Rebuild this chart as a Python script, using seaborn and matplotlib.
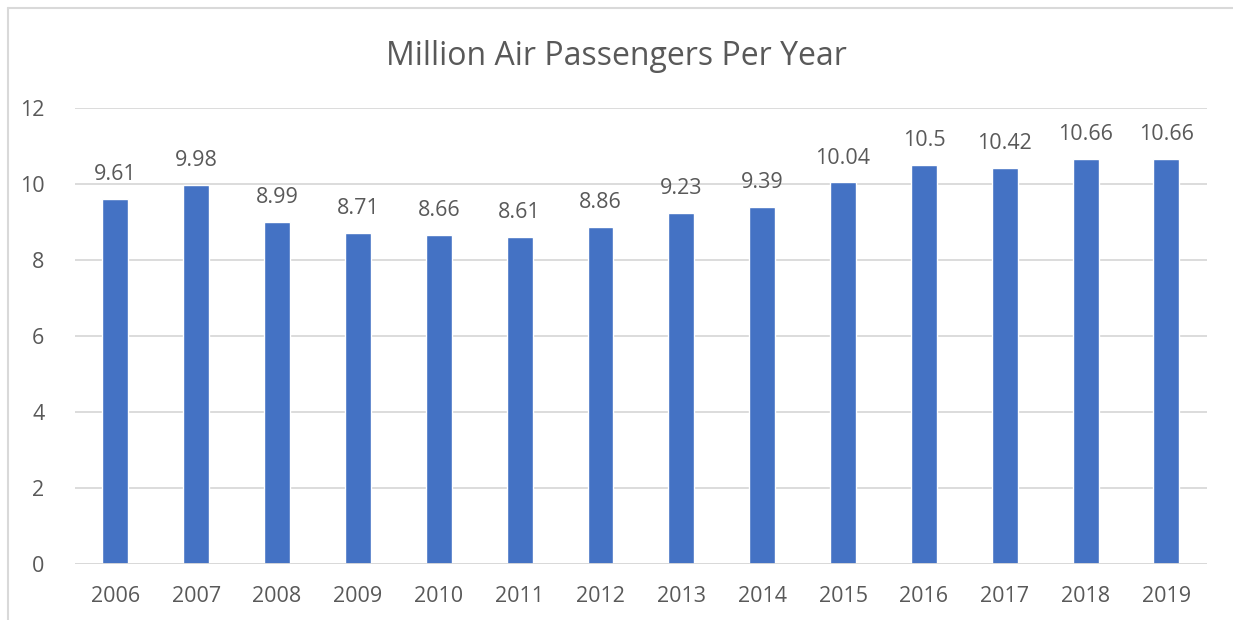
import pandas as pd
import numpy as np
import matplotlib.pyplot as plt
import seaborn as sns
from matplotlib.lines import Line2D

# Data
years = ['2006', '2007', '2008', '2009', '2010', '2011', '2012',
         '2013', '2014', '2015', '2016', '2017', '2018', '2019']
passengers = [9.61, 9.98, 8.99, 8.71, 8.66, 8.61, 8.86,
              9.23, 9.39, 10.04, 10.5, 10.42, 10.66, 10.66]
value_labels = ['9.61', '9.98', '8.99', '8.71', '8.66', '8.61', '8.86',
                '9.23', '9.39', '10.04', '10.5', '10.42', '10.66', '10.66']
y_ticks = [0, 2, 4, 6, 8, 10, 12]

df = pd.DataFrame({'Year': years, 'Passengers': passengers})

sns.set_style('white')
plt.rcParams['font.family'] = ['Open Sans', 'DejaVu Sans']

text_color = '#595959'
grid_color = '#d9d9d9'

fig = plt.figure(figsize=(12.33, 6.2), dpi=100)
ax = fig.add_axes([0.0608, 0.0903, 0.918, 0.7355])

sns.barplot(data=df, x='Year', y='Passengers', color='#4472C4',
            width=0.32, saturation=1, ax=ax, zorder=3)

ax.set_ylim(0, 12)
ax.set_xlim(-0.5, len(years) - 0.5)
ax.set_yticks(y_ticks)
ax.set_yticklabels([str(t) for t in y_ticks])
ax.grid(axis='y', color=grid_color, linewidth=1.3, zorder=0)
ax.grid(axis='x', visible=False)

for side in ['top', 'right', 'left', 'bottom']:
    ax.spines[side].set_visible(False)
ax.axhline(0, color=grid_color, linewidth=1.3, zorder=4)

ax.tick_params(axis='both', length=0, labelsize=15.5, labelcolor=text_color)
ax.tick_params(axis='y', pad=22)
ax.tick_params(axis='x', pad=16)
ax.set_xlabel('')
ax.set_ylabel('')

# Data labels
ax.bar_label(ax.containers[0], labels=value_labels, padding=10,
             fontsize=15.5, color=text_color)

fig.suptitle('Million Air Passengers Per Year', y=0.935,
             fontsize=23, color=text_color)

# Light frame around chart
fig.add_artist(Line2D([0.0065, 0.0065], [0, 0.987], transform=fig.transFigure,
                      color=grid_color, linewidth=1.5))
fig.add_artist(Line2D([0.0065, 1], [0.987, 0.987], transform=fig.transFigure,
                      color=grid_color, linewidth=1.5))

fig.savefig('out.png', dpi=100)
